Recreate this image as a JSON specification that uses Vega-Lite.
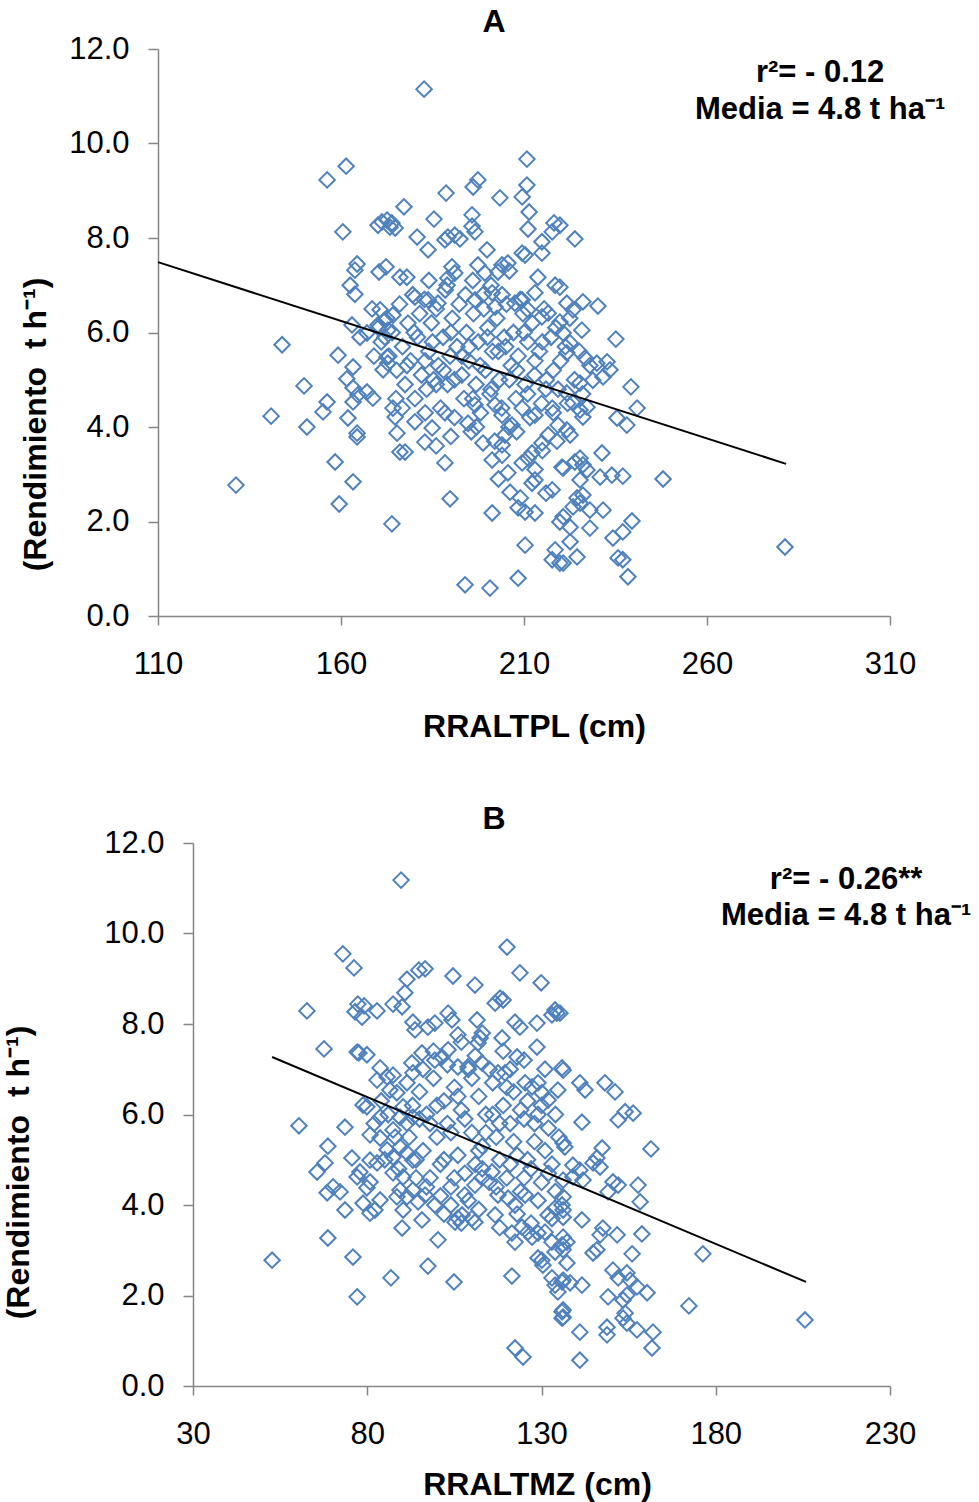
{
  "$schema": "https://vega.github.io/schema/vega-lite/v6.json",
  "autosize": {"type": "none"},
  "padding": {"left": 158, "top": 49, "right": 821, "bottom": 1453},
  "background": "white",
  "bounds": "flush",
  "spacing": 227,
  "config": {
    "font": "Liberation Sans",
    "view": {"stroke": null},
    "axis": {"domainColor": "#868686", "domainWidth": 1.5, "tickColor": "#868686", "tickWidth": 1.5, "labelColor": "#000000", "labelFontSize": 31, "labelFont": "Liberation Sans", "titleFont": "Liberation Sans", "titleFontSize": 32, "titleFontWeight": "bold", "titleColor": "#000000", "grid": false, "labelFlush": false, "labelOverlap": false},
    "axisX": {"tickSize": 9, "labelPadding": 24},
    "axisY": {"tickSize": 10, "labelPadding": 19}
  },
  "datasets": {
    "a_points": [
      {"x":182.7,"y":11.15},{"x":161.4,"y":9.52},{"x":156.2,"y":9.23},{"x":160.5,"y":8.13},{"x":131.3,"y":2.77},{"x":140.9,"y":4.23},{"x":143.9,"y":5.74},{"x":149.9,"y":4.87},{"x":150.7,"y":4.0},{"x":156.2,"y":4.53},{"x":155.1,"y":4.32},{"x":158.4,"y":3.26},{"x":159.5,"y":2.37},{"x":163.3,"y":2.84},{"x":173.9,"y":1.95},{"x":159.2,"y":5.52},{"x":163.3,"y":5.27},{"x":161.6,"y":5.02},{"x":163.0,"y":6.16},{"x":165.2,"y":5.9},{"x":167.1,"y":5.99},{"x":164.4,"y":7.45},{"x":163.8,"y":7.32},{"x":170.4,"y":7.28},{"x":172.3,"y":7.39},{"x":162.5,"y":7.0},{"x":163.8,"y":6.81},{"x":176.1,"y":7.17},{"x":163.3,"y":4.83},{"x":167.1,"y":4.74},{"x":168.7,"y":4.61},{"x":164.6,"y":4.68},{"x":163.3,"y":4.53},{"x":161.9,"y":4.19},{"x":164.4,"y":3.87},{"x":164.4,"y":3.79},{"x":174.2,"y":4.4},{"x":174.8,"y":4.21},{"x":175.3,"y":3.87},{"x":176.1,"y":3.47},{"x":172.6,"y":5.48},{"x":172.8,"y":5.35},{"x":171.5,"y":5.21},{"x":170.7,"y":6.48},{"x":172.0,"y":6.26},{"x":174.2,"y":6.37},{"x":172.8,"y":6.05},{"x":170.1,"y":6.16},{"x":171.2,"y":8.34},{"x":172.6,"y":8.38},{"x":173.9,"y":8.32},{"x":170.1,"y":8.27},{"x":173.4,"y":8.23},{"x":174.8,"y":8.21},
      {"x":210.8,"y":9.67},{"x":197.4,"y":9.23},{"x":196.1,"y":9.08},{"x":188.7,"y":8.95},{"x":203.4,"y":8.85},{"x":209.5,"y":8.87},{"x":210.8,"y":9.12},{"x":177.2,"y":8.66},{"x":211.4,"y":8.55},{"x":185.4,"y":8.4},{"x":195.8,"y":8.49},{"x":218.2,"y":8.32},{"x":217.7,"y":8.13},{"x":211.1,"y":8.19},{"x":223.9,"y":7.98},{"x":180.8,"y":8.02},{"x":183.8,"y":7.75},{"x":189.2,"y":8.02},{"x":191.1,"y":8.06},{"x":188.4,"y":7.96},{"x":192.5,"y":7.98},{"x":196.6,"y":8.13},{"x":195.8,"y":8.25},{"x":199.9,"y":7.75},{"x":214.9,"y":7.92},{"x":214.9,"y":7.68},{"x":210.3,"y":7.64},{"x":209.5,"y":7.68},{"x":197.4,"y":7.43},{"x":199.3,"y":7.26},{"x":204.0,"y":7.43},{"x":205.6,"y":7.47},{"x":202.9,"y":7.28},{"x":190.3,"y":7.39},{"x":191.1,"y":7.26},{"x":189.2,"y":7.15},{"x":178.0,"y":7.17},{"x":213.8,"y":7.17},{"x":218.5,"y":7.0},{"x":213.0,"y":6.84},{"x":183.8,"y":6.69},{"x":186.5,"y":6.62},{"x":180.2,"y":6.75},{"x":196.6,"y":6.69},{"x":201.3,"y":6.84},{"x":202.1,"y":6.54},{"x":207.5,"y":6.62},{"x":209.5,"y":6.69},{"x":211.1,"y":6.48},{"x":214.9,"y":6.33},{"x":216.6,"y":6.41},
      {"x":177.5,"y":3.47},{"x":188.4,"y":3.24},{"x":189.8,"y":2.48},{"x":201.3,"y":2.18},{"x":193.9,"y":0.66},{"x":200.7,"y":0.59},{"x":208.4,"y":0.8},{"x":210.3,"y":1.5},{"x":218.5,"y":1.4},{"x":217.7,"y":1.19},{"x":219.8,"y":1.12},{"x":205.6,"y":3.03},{"x":206.2,"y":2.62},{"x":208.4,"y":2.29},{"x":210.3,"y":2.2},{"x":213.0,"y":2.18},{"x":212.2,"y":2.81},{"x":213.0,"y":2.88},{"x":217.7,"y":2.67},{"x":219.8,"y":1.99},{"x":201.3,"y":3.3},{"x":198.8,"y":3.66},{"x":204.0,"y":3.62},{"x":211.1,"y":3.34},{"x":212.2,"y":3.45},{"x":209.5,"y":3.24},{"x":220.4,"y":3.15},{"x":176.7,"y":4.4},{"x":180.2,"y":4.11},{"x":182.9,"y":3.68},{"x":184.9,"y":3.98},{"x":188.4,"y":4.3},{"x":194.7,"y":4.08},{"x":196.6,"y":4.47},{"x":202.1,"y":4.47},{"x":204.0,"y":4.25},{"x":206.7,"y":4.04},{"x":204.8,"y":3.83},{"x":209.5,"y":4.4},{"x":213.0,"y":4.25},{"x":217.7,"y":4.4},{"x":219.3,"y":4.04},{"x":216.6,"y":3.83},{"x":214.9,"y":3.66},
      {"x":219.8,"y":8.27},{"x":219.8,"y":6.96},{"x":226.1,"y":6.65},{"x":230.2,"y":6.56},{"x":221.7,"y":6.62},{"x":223.4,"y":6.48},{"x":219.8,"y":6.22},{"x":220.7,"y":5.99},{"x":225.8,"y":6.05},{"x":235.1,"y":5.86},{"x":222.6,"y":5.78},{"x":221.7,"y":5.57},{"x":226.7,"y":5.46},{"x":229.9,"y":5.35},{"x":232.7,"y":5.38},{"x":233.5,"y":5.21},{"x":231.6,"y":5.06},{"x":228.8,"y":4.99},{"x":225.3,"y":4.93},{"x":239.2,"y":4.85},{"x":240.9,"y":4.4},{"x":235.4,"y":4.19},{"x":238.1,"y":4.04},{"x":221.7,"y":4.72},{"x":223.4,"y":4.51},{"x":225.3,"y":4.36},{"x":227.2,"y":4.42},{"x":226.1,"y":4.21},{"x":221.7,"y":3.94},{"x":222.6,"y":3.83},{"x":231.3,"y":3.45},{"x":225.3,"y":3.34},{"x":223.9,"y":3.26},{"x":226.1,"y":3.2},{"x":227.2,"y":3.09},{"x":220.7,"y":3.13},{"x":230.8,"y":2.94},{"x":234.0,"y":2.98},{"x":237.0,"y":2.96},{"x":225.3,"y":2.88},{"x":248.0,"y":2.9},{"x":224.5,"y":2.5},{"x":225.3,"y":2.39},{"x":223.4,"y":2.31},{"x":226.1,"y":2.56},{"x":231.6,"y":2.24},{"x":228.0,"y":2.24},{"x":220.7,"y":2.1},{"x":222.6,"y":1.88},{"x":228.0,"y":1.86},{"x":239.5,"y":2.01},{"x":237.0,"y":1.78},{"x":234.3,"y":1.65},{"x":222.6,"y":1.57},{"x":224.5,"y":1.25},{"x":220.7,"y":1.12},{"x":235.7,"y":1.23},{"x":237.0,"y":1.19},{"x":238.4,"y":0.83},{"x":281.3,"y":1.46},
      {"x":168.5,"y":6.5},{"x":170.2,"y":6.1},{"x":171.0,"y":5.8},{"x":172.5,"y":6.3},{"x":173.1,"y":5.5},{"x":174.0,"y":6.0},{"x":175.2,"y":5.2},{"x":176.0,"y":6.6},{"x":176.8,"y":5.7},{"x":177.5,"y":4.9},{"x":178.3,"y":6.2},{"x":179.0,"y":5.4},{"x":179.6,"y":6.8},{"x":180.2,"y":4.6},{"x":180.9,"y":5.9},{"x":181.5,"y":6.4},{"x":182.0,"y":5.1},{"x":182.8,"y":6.7},{"x":183.4,"y":4.8},{"x":184.0,"y":5.6},{"x":184.7,"y":6.2},{"x":185.3,"y":5.0},{"x":186.0,"y":6.5},{"x":186.6,"y":5.3},{"x":187.2,"y":4.4},{"x":187.9,"y":5.9},{"x":188.5,"y":6.9},{"x":189.1,"y":4.9},{"x":189.8,"y":5.5},{"x":190.4,"y":6.3},{"x":191.0,"y":4.2},{"x":191.7,"y":5.7},{"x":192.3,"y":6.6},{"x":193.0,"y":5.1},{"x":193.6,"y":4.6},{"x":194.3,"y":6.0},{"x":194.9,"y":5.4},{"x":195.6,"y":3.9},{"x":196.2,"y":6.4},{"x":196.9,"y":4.9},{"x":197.5,"y":5.8},{"x":198.1,"y":4.3},{"x":198.8,"y":6.8},{"x":199.4,"y":5.2},{"x":200.1,"y":6.1},{"x":200.7,"y":4.7},{"x":201.4,"y":5.6},{"x":202.0,"y":3.7},{"x":202.6,"y":6.3},{"x":203.3,"y":5.0},{"x":203.9,"y":4.4},{"x":204.6,"y":5.9},{"x":205.2,"y":6.6},{"x":205.9,"y":4.0},{"x":206.5,"y":5.3},{"x":207.1,"y":6.0},{"x":207.8,"y":4.6},{"x":208.4,"y":5.5},{"x":209.7,"y":6.4},{"x":210.3,"y":4.9},{"x":211.0,"y":5.8},{"x":211.6,"y":4.2},{"x":212.3,"y":6.2},{"x":212.9,"y":5.1},{"x":214.2,"y":5.6},{"x":214.8,"y":4.5},{"x":215.5,"y":6.5},{"x":216.1,"y":5.0},{"x":217.4,"y":5.9},{"x":218.0,"y":4.3},{"x":218.7,"y":6.1},{"x":219.3,"y":4.8},{"x":220.0,"y":5.4},{"x":221.3,"y":5.7},{"x":221.9,"y":4.5},{"x":222.5,"y":6.3},{"x":223.8,"y":5.0},{"x":225.1,"y":5.6},{"x":226.0,"y":4.7},{"x":228.0,"y":5.3},
      {"x":180,"y":6.0},{"x":185,"y":5.8},{"x":190,"y":6.0},{"x":195,"y":5.7},{"x":200,"y":5.9},{"x":205,"y":5.7},{"x":210,"y":6.0},{"x":215,"y":5.8},{"x":183,"y":5.4},{"x":188,"y":5.2},{"x":193,"y":5.5},{"x":198,"y":5.3},{"x":203,"y":5.6},{"x":208,"y":5.2},{"x":213,"y":5.4},{"x":218,"y":5.2},{"x":186,"y":4.9},{"x":191,"y":5.0},{"x":196,"y":4.6},{"x":201,"y":4.8},{"x":206,"y":5.0},{"x":211,"y":4.7},{"x":216,"y":4.8},{"x":178,"y":5.3},{"x":175,"y":4.6},{"x":172,"y":5.9},{"x":169,"y":5.5},{"x":199,"y":6.5},{"x":204,"y":6.8},{"x":209,"y":6.7},{"x":194,"y":6.8},{"x":189,"y":7.0},{"x":184,"y":7.1},{"x":201,"y":7.0},{"x":196,"y":7.1},{"x":206,"y":7.3},
      {"x":183,"y":4.3},{"x":190,"y":3.8},{"x":197,"y":4.0},{"x":204,"y":3.4},{"x":208,"y":3.9},{"x":213,"y":3.1},{"x":216,"y":2.6},{"x":203,"y":2.9},{"x":209,"y":2.5},{"x":215,"y":3.5},{"x":219,"y":3.7},{"x":186,"y":3.6}
    ],
    "a_line": [{"x":110,"y":7.49},{"x":281.6,"y":3.22}],
    "a_text": [{"x":290.9,"y":11.49,"label":"r²= - 0.12"},{"x":290.9,"y":10.71,"label":"Media = 4.8 t ha⁻¹"}],
    "b_points": [
      {"x":89.7,"y":11.18},{"x":73.0,"y":9.55},{"x":76.2,"y":9.24},{"x":91.4,"y":8.99},{"x":90.8,"y":8.69},{"x":94.8,"y":9.19},{"x":62.7,"y":8.29},{"x":77.3,"y":8.44},{"x":79.1,"y":8.4},{"x":76.5,"y":8.27},{"x":78.5,"y":8.15},{"x":82.8,"y":8.29},{"x":87.4,"y":8.44},{"x":90.0,"y":8.38},{"x":93.1,"y":8.04},{"x":67.6,"y":7.45},{"x":77.1,"y":7.38},{"x":77.6,"y":7.36},{"x":79.9,"y":7.32},{"x":83.7,"y":7.03},{"x":82.8,"y":6.76},{"x":85.7,"y":6.83},{"x":87.4,"y":6.87},{"x":86.5,"y":6.54},{"x":88.5,"y":6.48},{"x":91.4,"y":6.7},{"x":93.1,"y":6.92},{"x":92.8,"y":7.14},{"x":78.8,"y":6.21},{"x":79.9,"y":6.17},{"x":83.7,"y":5.94},{"x":89.4,"y":5.94},{"x":91.4,"y":5.81},{"x":93.1,"y":5.94},{"x":90.3,"y":6.17},{"x":60.4,"y":5.75},{"x":73.6,"y":5.72},{"x":80.8,"y":5.55},{"x":83.7,"y":5.48},{"x":87.4,"y":5.66},{"x":68.7,"y":5.3},{"x":67.9,"y":4.93},{"x":65.6,"y":4.73},{"x":75.6,"y":5.04},{"x":77.9,"y":4.73},{"x":77.1,"y":4.62},{"x":80.8,"y":4.99},{"x":82.8,"y":4.93},{"x":85.7,"y":5.22},{"x":87.4,"y":5.06},{"x":89.4,"y":5.28},{"x":91.4,"y":5.15},{"x":93.1,"y":4.99},{"x":87.4,"y":4.71},{"x":90.3,"y":4.62},{"x":68.5,"y":4.27},{"x":70.2,"y":4.4},{"x":72.2,"y":4.29},{"x":80.8,"y":4.51},{"x":79.9,"y":4.38},{"x":83.7,"y":4.11},{"x":82.2,"y":3.89},{"x":80.8,"y":3.82},{"x":78.8,"y":4.04},{"x":73.6,"y":3.89},{"x":89.4,"y":4.33},{"x":88.5,"y":4.18},{"x":91.4,"y":4.18},{"x":93.1,"y":4.33},{"x":90.3,"y":3.89},{"x":90.0,"y":3.49},{"x":68.7,"y":3.27},{"x":52.7,"y":2.78},{"x":75.9,"y":2.85},{"x":86.8,"y":2.39},{"x":77.1,"y":1.97},
      {"x":120.1,"y":9.7},{"x":96.6,"y":9.22},{"x":104.6,"y":9.06},{"x":110.9,"y":8.86},{"x":123.8,"y":9.13},{"x":129.9,"y":8.91},{"x":118.1,"y":8.57},{"x":116.7,"y":8.46},{"x":119.0,"y":8.53},{"x":133.9,"y":8.31},{"x":133.0,"y":8.2},{"x":134.4,"y":8.24},{"x":122.4,"y":8.04},{"x":123.8,"y":7.93},{"x":128.7,"y":8.02},{"x":111.5,"y":8.09},{"x":103.2,"y":8.24},{"x":104.3,"y":8.09},{"x":99.4,"y":8.02},{"x":97.4,"y":7.93},{"x":106.0,"y":7.76},{"x":112.4,"y":7.69},{"x":111.8,"y":7.58},{"x":118.7,"y":7.69},{"x":128.7,"y":7.49},{"x":123.0,"y":7.27},{"x":135.9,"y":7.03},{"x":93.7,"y":7.87},{"x":95.7,"y":7.36},{"x":99.4,"y":7.2},{"x":101.4,"y":7.27},{"x":103.2,"y":7.43},{"x":106.0,"y":7.05},{"x":108.9,"y":7.05},{"x":112.9,"y":7.14},{"x":117.5,"y":6.92},{"x":119.5,"y":6.92},{"x":125.3,"y":6.7},{"x":127.3,"y":6.61},{"x":129.0,"y":6.7},{"x":130.1,"y":6.48},{"x":131.9,"y":6.32},{"x":134.7,"y":6.54},
      {"x":95.7,"y":3.67},{"x":100.3,"y":3.23},{"x":97.4,"y":2.65},{"x":104.9,"y":2.3},{"x":121.5,"y":2.43},{"x":122.4,"y":0.84},{"x":124.7,"y":0.64},{"x":106.0,"y":3.71},{"x":107.2,"y":3.78},{"x":105.2,"y":3.62},{"x":110.9,"y":3.62},{"x":116.7,"y":3.78},{"x":121.5,"y":3.38},{"x":122.4,"y":3.18},{"x":124.4,"y":3.51},{"x":126.1,"y":3.4},{"x":127.3,"y":3.29},{"x":129.0,"y":3.38},{"x":129.0,"y":2.83},{"x":130.4,"y":2.67},{"x":130.1,"y":2.78},{"x":133.0,"y":2.39},{"x":133.9,"y":2.23},{"x":135.9,"y":2.3},{"x":134.7,"y":2.08},{"x":135.9,"y":1.64},{"x":135.9,"y":1.5},{"x":133.0,"y":3.18},{"x":133.9,"y":2.96},{"x":135.9,"y":3.12},{"x":131.9,"y":3.78},{"x":133.9,"y":3.93},{"x":135.9,"y":4.0},{"x":96.6,"y":4.22},{"x":99.4,"y":4.0},{"x":94.6,"y":4.07},{"x":108.0,"y":4.22},{"x":110.9,"y":4.44},{"x":112.9,"y":4.6},{"x":115.8,"y":4.73},{"x":117.5,"y":4.22},{"x":120.4,"y":4.15},{"x":122.4,"y":4.0},{"x":125.3,"y":4.22},
      {"x":135.3,"y":8.24},{"x":136.2,"y":6.98},{"x":141.0,"y":6.7},{"x":142.5,"y":6.54},{"x":148.2,"y":6.7},{"x":151.1,"y":6.5},{"x":154.0,"y":6.06},{"x":156.3,"y":6.03},{"x":152.0,"y":5.88},{"x":141.6,"y":5.83},{"x":161.4,"y":5.24},{"x":136.2,"y":5.37},{"x":136.7,"y":5.28},{"x":147.4,"y":5.26},{"x":145.9,"y":5.04},{"x":144.8,"y":4.93},{"x":146.8,"y":4.84},{"x":139.0,"y":4.88},{"x":141.0,"y":4.77},{"x":141.9,"y":4.55},{"x":139.0,"y":4.62},{"x":150.5,"y":4.51},{"x":152.0,"y":4.44},{"x":149.1,"y":4.29},{"x":157.7,"y":4.44},{"x":158.3,"y":4.07},{"x":136.2,"y":4.55},{"x":136.2,"y":4.18},{"x":141.6,"y":3.67},{"x":136.2,"y":3.89},{"x":136.2,"y":3.73},{"x":147.6,"y":3.49},{"x":146.8,"y":3.34},{"x":151.7,"y":3.34},{"x":158.8,"y":3.36},{"x":136.2,"y":3.29},{"x":137.3,"y":3.18},{"x":136.2,"y":3.01},{"x":145.9,"y":3.01},{"x":144.8,"y":2.94},{"x":156.0,"y":2.92},{"x":176.3,"y":2.92},{"x":172.3,"y":1.77},{"x":205.6,"y":1.46},{"x":137.3,"y":2.72},{"x":136.2,"y":2.34},{"x":138.2,"y":2.28},{"x":141.6,"y":2.23},{"x":150.5,"y":2.56},{"x":152.0,"y":2.39},{"x":154.5,"y":2.5},{"x":155.4,"y":2.34},{"x":157.4,"y":2.19},{"x":160.3,"y":2.06},{"x":154.5,"y":2.01},{"x":153.4,"y":1.9},{"x":149.1,"y":1.97},{"x":136.2,"y":1.68},{"x":136.2,"y":1.52},{"x":154.0,"y":1.61},{"x":153.4,"y":1.5},{"x":154.5,"y":1.39},{"x":157.4,"y":1.24},{"x":148.8,"y":1.3},{"x":148.8,"y":1.13},{"x":141.0,"y":1.19},{"x":162.0,"y":1.19},{"x":161.7,"y":0.84},{"x":141.0,"y":0.57},
      {"x":95,"y":6.5},{"x":96,"y":5.2},{"x":97,"y":6.0},{"x":98,"y":4.6},{"x":99,"y":6.8},{"x":100,"y":5.5},{"x":101,"y":4.9},{"x":102,"y":6.3},{"x":103,"y":5.8},{"x":104,"y":4.4},{"x":105,"y":6.6},{"x":106,"y":5.1},{"x":107,"y":6.1},{"x":108,"y":4.7},{"x":109,"y":7.0},{"x":110,"y":5.6},{"x":111,"y":4.9},{"x":112,"y":6.4},{"x":113,"y":5.3},{"x":114,"y":6.0},{"x":115,"y":4.5},{"x":116,"y":6.7},{"x":117,"y":5.5},{"x":118,"y":5.0},{"x":119,"y":6.2},{"x":120,"y":4.6},{"x":121,"y":5.8},{"x":122,"y":6.5},{"x":123,"y":5.1},{"x":124,"y":4.3},{"x":125,"y":5.9},{"x":126,"y":6.3},{"x":127,"y":4.8},{"x":128,"y":5.4},{"x":129,"y":6.0},{"x":130,"y":4.5},{"x":131,"y":5.2},{"x":132,"y":5.7},{"x":133,"y":4.9},{"x":134,"y":4.3},{"x":135,"y":5.5},
      {"x":96,"y":7.0},{"x":98,"y":5.8},{"x":100,"y":6.2},{"x":102,"y":5.0},{"x":104,"y":5.6},{"x":106,"y":6.4},{"x":108,"y":5.9},{"x":110,"y":6.8},{"x":112,"y":5.2},{"x":114,"y":5.6},{"x":116,"y":6.0},{"x":118,"y":5.8},{"x":120,"y":6.6},{"x":122,"y":5.4},{"x":124,"y":6.1},{"x":126,"y":5.0},{"x":128,"y":5.8},{"x":130,"y":6.2},{"x":132,"y":4.7},{"x":134,"y":6.0},
      {"x":94,"y":5.0},{"x":97,"y":4.4},{"x":101,"y":4.2},{"x":105,"y":4.6},{"x":109,"y":4.1},{"x":113,"y":4.8},{"x":117,"y":4.4},{"x":121,"y":4.9},{"x":125,"y":4.6},{"x":129,"y":4.1},{"x":133,"y":3.7},
      {"x":99,"y":7.4},{"x":103,"y":7.1},{"x":107,"y":7.6},{"x":111,"y":7.3},{"x":115,"y":7.0},{"x":119,"y":7.4},{"x":113,"y":7.8},{"x":121,"y":7.0},{"x":125,"y":7.2},{"x":131,"y":7.0},
      {"x":102,"y":3.8},{"x":107,"y":3.6},{"x":112,"y":3.9},{"x":118,"y":3.5},{"x":123,"y":3.8},{"x":127,"y":3.6},{"x":131,"y":3.4},{"x":104,"y":4.0},{"x":110,"y":3.7},
      {"x":92,"y":5.5},{"x":93,"y":6.2},{"x":94,"y":4.6},{"x":95,"y":5.9},{"x":86,"y":6.0},{"x":88,"y":5.5},{"x":84,"y":6.3},{"x":82,"y":5.8},{"x":85,"y":5.0},{"x":89,"y":4.8}
    ],
    "b_line": [{"x":52.7,"y":7.27},{"x":205.9,"y":2.3}],
    "b_text": [{"x":217.4,"y":11.18,"label":"r²= - 0.26**"},{"x":217.4,"y":10.39,"label":"Media = 4.8 t ha⁻¹"}]
  },
  "vconcat": [
    {
      "width": 732,
      "height": 567,
      "title": {"text": "A", "fontSize": 32, "fontWeight": "bold", "font": "Liberation Sans", "color": "#000000", "anchor": "middle", "dx": -30, "dy": 47, "offset": 16, "baseline": "alphabetic"},
      "encoding": {
        "x": {"field": "x", "type": "quantitative", "scale": {"domain": [110, 310], "nice": false, "zero": false},
          "axis": {"values": [110, 160, 210, 260, 310], "format": "d", "title": "RRALTPL (cm)", "titleX": 376, "titleY": 120, "titleBaseline": "alphabetic", "titleAlign": "center", "titleAngle": 0}},
        "y": {"field": "y", "type": "quantitative", "scale": {"domain": [0, 12], "nice": false, "zero": false},
          "axis": {"values": [0, 2, 4, 6, 8, 10, 12], "format": ".1f", "title": "(Rendimiento\u00a0\u00a0t h⁻¹)", "titleX": -113, "titleY": 375, "titleAngle": 270, "titleBaseline": "alphabetic", "titleAlign": "center"}}
      },
      "layer": [
        {"data": {"name": "a_points"}, "mark": {"type": "point", "shape": "diamond", "size": 240, "filled": false, "color": "#4F81BD", "strokeWidth": 2, "opacity": 1}},
        {"data": {"name": "a_line"}, "mark": {"type": "line", "color": "#000000", "strokeWidth": 2}},
        {"data": {"name": "a_text"}, "mark": {"type": "text", "font": "Liberation Sans", "fontSize": 31, "fontWeight": "bold", "align": "center", "baseline": "middle", "color": "#000000"}, "encoding": {"text": {"field": "label"}}}
      ]
    },
    {
      "width": 732,
      "height": 543,
      "title": {"text": "B", "fontSize": 32, "fontWeight": "bold", "font": "Liberation Sans", "color": "#000000", "anchor": "middle", "dx": -30, "dy": 48, "offset": 14, "baseline": "alphabetic"},
      "encoding": {
        "x": {"field": "x", "type": "quantitative", "scale": {"domain": [30, 230], "nice": false, "zero": false, "range": [35, 732]},
          "axis": {"values": [30, 80, 130, 180, 230], "format": "d", "title": "RRALTMZ (cm)", "titleX": 379, "titleY": 108, "titleBaseline": "alphabetic", "titleAlign": "center", "titleAngle": 0}},
        "y": {"field": "y", "type": "quantitative", "scale": {"domain": [0, 12], "nice": false, "zero": false},
          "axis": {"offset": -35, "values": [0, 2, 4, 6, 8, 10, 12], "format": ".1f", "title": "(Rendimiento\u00a0\u00a0t h⁻¹)", "titleX": -165, "titleY": 329, "titleAngle": 270, "titleBaseline": "alphabetic", "titleAlign": "center"}}
      },
      "layer": [
        {"data": {"name": "b_points"}, "mark": {"type": "point", "shape": "diamond", "size": 240, "filled": false, "color": "#4F81BD", "strokeWidth": 2, "opacity": 1}},
        {"data": {"name": "b_line"}, "mark": {"type": "line", "color": "#000000", "strokeWidth": 2}},
        {"data": {"name": "b_text"}, "mark": {"type": "text", "font": "Liberation Sans", "fontSize": 31, "fontWeight": "bold", "align": "center", "baseline": "middle", "color": "#000000"}, "encoding": {"text": {"field": "label"}}}
      ]
    }
  ]
}
